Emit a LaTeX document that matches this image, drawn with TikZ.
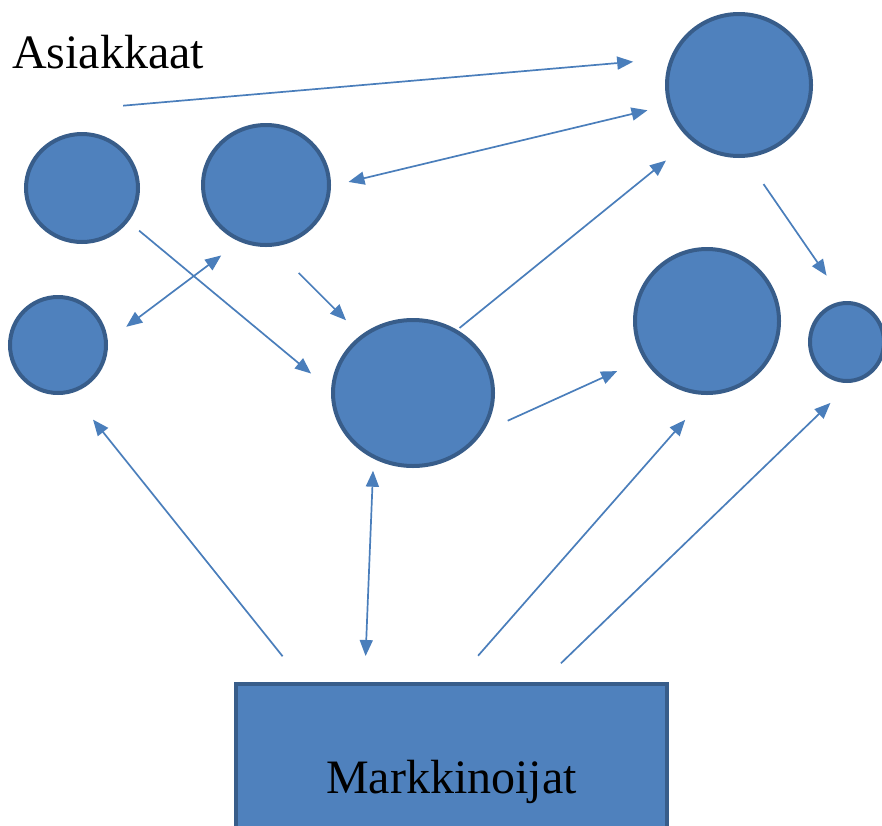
\documentclass[tikz,border=0pt]{standalone}
\usepackage{fontspec}
\setmainfont{Liberation Serif}
\usetikzlibrary{arrows.meta,shapes.geometric}

\definecolor{blobfill}{HTML}{4F81BD}
\definecolor{blobline}{HTML}{385D8A}
\definecolor{linkcol}{HTML}{4A7EBB}

\begin{document}
\begin{tikzpicture}[x=1pt,y=-1pt,
        blob/.style={ellipse,draw=blobline,fill=blobfill,line width=4pt,inner sep=0pt},
        link/.style={draw=linkcol,line width=1.7pt,-{Triangle[length=16pt,width=13pt]}},
        bilink/.style={link,{Triangle[length=16pt,width=13pt]}-{Triangle[length=16pt,width=13pt]}},
        bigtext/.style={font=\fontsize{48}{58}\selectfont,inner sep=0pt}]
        \clip (0,0) rectangle (882,825);

        \node[bigtext,anchor=base west] (asiakkaat) at (12,68) {Asiakkaat};

        \node[blob,minimum width=112pt,minimum height=108pt] (a1) at (82,188) {};
        \node[blob,minimum width=126pt,minimum height=120pt] (a2) at (266,185) {};
        \node[blob,minimum width=96pt,minimum height=96pt] (a3) at (58,345) {};
        \node[blob,minimum width=160pt,minimum height=146pt] (a4) at (413,393) {};
        \node[blob,minimum width=144pt,minimum height=142pt] (a5) at (739,85) {};
        \node[blob,minimum width=144pt,minimum height=144pt] (a6) at (707,321) {};
        \node[blob,minimum width=74pt,minimum height=78pt] (a7) at (847,342) {};

        \node[bigtext,draw=blobline,fill=blobfill,line width=4pt,
              minimum width=431pt,minimum height=196pt] (markkinoijat) at (451.5,782) {Markkinoijat};

        % asiakkaat keskenaan
        \draw[link,shorten >=37pt] ([xshift=15pt,yshift=-37pt]asiakkaat.south) -- (a5.159);
        \draw[bilink,shorten <=18pt,shorten >=21pt] (a2.-1) -- (a5.-164);
        \draw[link,shorten <=14pt,shorten >=26pt] (a1.-36) -- (a4.178);
        \draw[link,shorten <=37pt,shorten >=21pt] (a2.-84) -- (a4.132);
        \draw[bilink,shorten <=23pt,shorten >=23pt] (a3.5) -- (a2.-115);
        \draw[link,shorten <=3pt,shorten >=32pt] (a4.55) -- (a5.-131);
        \draw[link,shorten <=32pt,shorten >=31pt] (a5.-85) -- (a7.94);
        \draw[link,shorten <=27pt,shorten >=29pt] (a4.-29) -- (a6.-149);

        % markkinoijilta asiakkaille
        \draw[link,shorten <=33pt,shorten >=34pt] (markkinoijat.146) -- (a3.-74.5);
        \draw[bilink,shorten <=26pt,shorten >=12pt] (markkinoijat.131.7) -- (a4.-121);
        \draw[link,shorten <=35pt,shorten >=33pt] (markkinoijat.88) -- (a6.-90);
        \draw[link,shorten <=27pt,shorten >=29pt] (markkinoijat.48.7) -- (a7.-84);
    \end{tikzpicture}
\end{document}
